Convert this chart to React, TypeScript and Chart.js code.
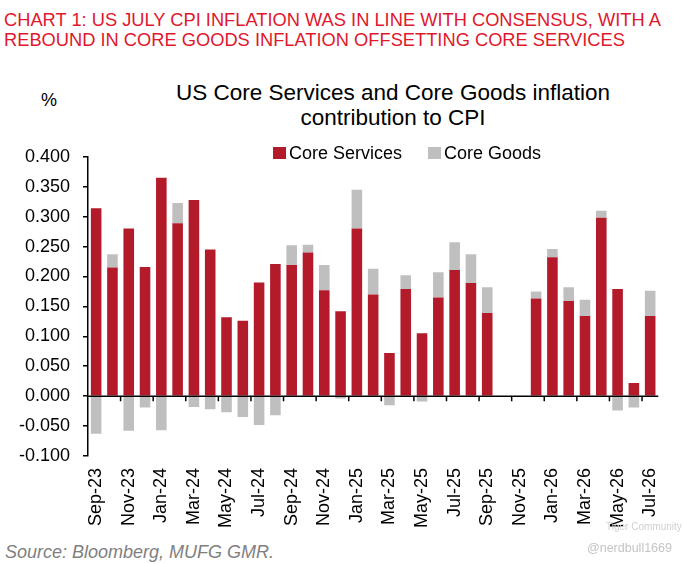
import React, { useEffect, useRef } from "react";
import { Chart, registerables } from "chart.js";

Chart.register(...registerables);

const months: string[] = [
  "Sep-23", "Oct-23", "Nov-23", "Dec-23", "Jan-24", "Feb-24", "Mar-24", "Apr-24",
  "May-24", "Jun-24", "Jul-24", "Aug-24", "Sep-24", "Oct-24", "Nov-24", "Dec-24",
  "Jan-25", "Feb-25", "Mar-25", "Apr-25", "May-25", "Jun-25", "Jul-25", "Aug-25",
  "Sep-25", "Oct-25", "Nov-25", "Dec-25", "Jan-26", "Feb-26", "Mar-26", "Apr-26",
  "May-26", "Jun-26", "Jul-26",
];

const coreServices: (number | null)[] = [
  0.314, 0.215, 0.280, 0.216, 0.365, 0.289, 0.328, 0.245,
  0.132, 0.126, 0.190, 0.221, 0.219, 0.240, 0.177, 0.142,
  0.280, 0.170, 0.072, 0.179, 0.105, 0.165, 0.211, 0.189,
  0.139, null, null, 0.163, 0.232, 0.159, 0.134, 0.298,
  0.179, 0.022, 0.134,
];

const coreGoods: (number | null)[] = [
  -0.063, 0.022, -0.058, -0.019, -0.057, 0.034, -0.018, -0.022,
  -0.027, -0.035, -0.048, -0.032, 0.033, 0.013, 0.042, -0.004,
  0.065, 0.043, -0.015, 0.023, -0.009, 0.042, 0.046, 0.048,
  0.043, null, null, 0.012, 0.014, 0.023, 0.027, 0.012,
  -0.024, -0.019, 0.042,
];

const seriesNames = ["Core Services", "Core Goods"];
const seriesColors = ["#b31b2b", "#bfbfbf"];

const FONT = "'Liberation Sans', Arial, Helvetica, sans-serif";

const zeroAxisPlugin = {
  id: "zeroAxis",
  afterDatasetsDraw(chart: any) {
    const { ctx, chartArea, scales } = chart;
    const x = scales.x;
    const y = scales.y;
    const y0 = y.getPixelForValue(0);
    ctx.save();
    ctx.strokeStyle = "#000";
    ctx.lineWidth = 1.5;
    ctx.beginPath();
    ctx.moveTo(chartArea.left, y0);
    ctx.lineTo(chartArea.right, y0);
    ctx.stroke();
    const half = (x.getPixelForValue(1) - x.getPixelForValue(0)) / 2;
    ctx.beginPath();
    for (let i = 2; i < months.length; i += 2) {
      const px = x.getPixelForValue(i) - half;
      ctx.moveTo(px, y0);
      ctx.lineTo(px, y0 + 5);
    }
    ctx.stroke();
    ctx.restore();
  },
};

export default function App() {
  const canvasRef = useRef<HTMLCanvasElement | null>(null);

  useEffect(() => {
    if (!canvasRef.current) return;
    Chart.defaults.font.family = FONT;
    const chart = new Chart(canvasRef.current, {
      type: "bar",
      data: {
        labels: months,
        datasets: [
          {
            label: seriesNames[0],
            data: coreServices,
            backgroundColor: seriesColors[0],
            borderWidth: 0,
            barPercentage: 0.65,
            categoryPercentage: 1.0,
          },
          {
            label: seriesNames[1],
            data: coreGoods,
            backgroundColor: seriesColors[1],
            borderWidth: 0,
            barPercentage: 0.65,
            categoryPercentage: 1.0,
          },
        ],
      },
      options: {
        responsive: false,
        animation: false,
        layout: { padding: { top: 9, right: 16, bottom: 0, left: 0 } },
        plugins: {
          legend: { display: false },
          title: { display: false },
          tooltip: { enabled: false },
        },
        scales: {
          x: {
            stacked: true,
            offset: true,
            border: { display: false },
            grid: { display: false, drawTicks: false },
            ticks: {
              autoSkip: false,
              minRotation: 90,
              maxRotation: 90,
              padding: 12,
              color: "#000",
              font: { size: 18, family: FONT },
              callback: (_v: any, i: number) => (i % 2 === 0 ? months[i] : ""),
            },
            afterFit: (scale: any) => {
              scale.height = 79;
            },
          },
          y: {
            stacked: true,
            min: -0.1,
            max: 0.4,
            border: { display: true, color: "#000", width: 1.5 },
            grid: {
              drawOnChartArea: false,
              drawTicks: true,
              tickLength: 5,
              color: "#000",
              lineWidth: 1.5,
            },
            ticks: {
              stepSize: 0.05,
              padding: 13,
              color: "#000",
              font: { size: 18, family: FONT },
              callback: (v: any) => {
                const n = Number(v);
                return Math.abs(n) < 1e-9 ? "0.000" : n.toFixed(3);
              },
            },
            afterFit: (scale: any) => {
              scale.width = 88;
            },
          },
        },
      },
      plugins: [zeroAxisPlugin],
    });
    return () => chart.destroy();
  }, []);

  const text: React.CSSProperties = { position: "absolute", fontFamily: FONT, whiteSpace: "nowrap" };

  return (
    <div
      style={{
        position: "fixed",
        left: 0,
        top: 0,
        width: 684,
        height: 564,
        background: "#fff",
        overflow: "hidden",
      }}
    >
      <div style={{ ...text, left: 4, top: 10, fontSize: 18.3, lineHeight: "20px", color: "#e0182d" }}>
        CHART 1: US JULY CPI INFLATION WAS IN LINE WITH CONSENSUS, WITH A
        <br />
        REBOUND IN CORE GOODS INFLATION OFFSETTING CORE SERVICES
      </div>
      <div
        style={{
          ...text,
          left: 0,
          width: 786,
          top: 80,
          fontSize: 22.5,
          lineHeight: "25px",
          textAlign: "center",
          color: "#000",
        }}
      >
        US Core Services and Core Goods inflation
        <br />
        contribution to CPI
      </div>
      <div style={{ ...text, left: 41, top: 89, fontSize: 18, lineHeight: "22px", color: "#000" }}>%</div>
      <canvas
        ref={canvasRef}
        width={684}
        height={402}
        style={{ position: "absolute", left: 0, top: 133, width: 684, height: 402 }}
      />
      <div style={{ ...text, left: 273, top: 142, fontSize: 18, lineHeight: "22px", color: "#000" }}>
        <span style={{ position: "absolute", left: 0, top: 5, width: 13, height: 12, background: seriesColors[0] }} />
        <span style={{ position: "absolute", left: 16, top: 0 }}>{seriesNames[0]}</span>
        <span style={{ position: "absolute", left: 155, top: 5, width: 13, height: 12, background: seriesColors[1] }} />
        <span style={{ position: "absolute", left: 171, top: 0 }}>{seriesNames[1]}</span>
      </div>
      <div
        style={{
          ...text,
          left: 5,
          top: 541,
          fontSize: 18,
          lineHeight: "22px",
          fontStyle: "italic",
          color: "#808080",
        }}
      >
        Source: Bloomberg, MUFG GMR.
      </div>
      <div style={{ ...text, left: 606, top: 521, fontSize: 10, lineHeight: "12px", color: "#d0d0d0" }}>
        Tiger Community
      </div>
      <div style={{ ...text, left: 587, top: 540, fontSize: 12.5, lineHeight: "16px", color: "#c4c4c4" }}>
        @nerdbull1669
      </div>
    </div>
  );
}
